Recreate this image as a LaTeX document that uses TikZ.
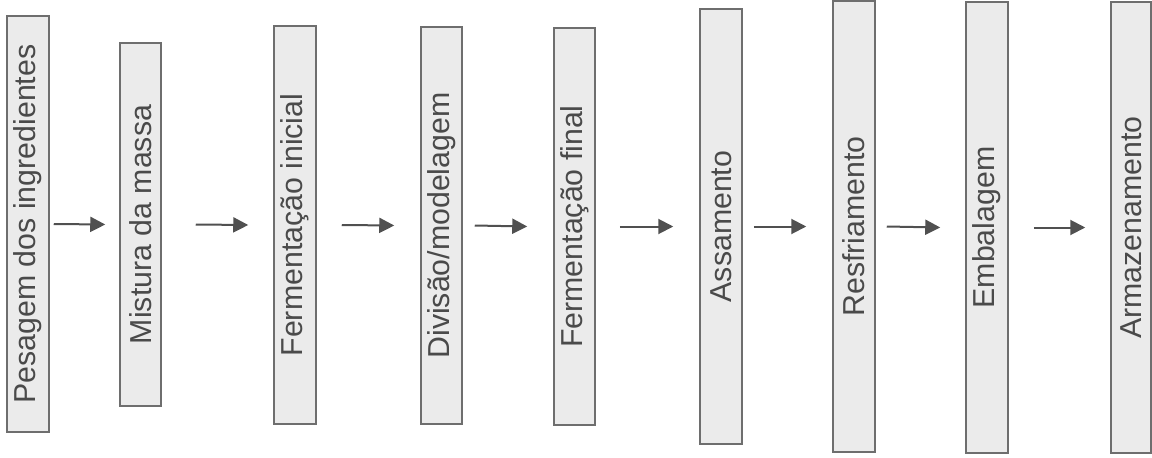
\documentclass[tikz,border=0pt]{standalone}
\usepackage{fontspec}
\setmainfont{Liberation Sans}
\usetikzlibrary{arrows.meta}
\definecolor{boxfill}{HTML}{EBEBEB}
\definecolor{boxline}{HTML}{6E6E6E}
\definecolor{txt}{HTML}{4A4A4A}
\definecolor{arrcol}{HTML}{505050}
\tikzset{
  stagebox/.style={draw=boxline, line width=1.5pt, fill=boxfill, inner sep=0pt,
    text=txt, font=\fontsize{30.3}{32}\selectfont},
  flowarrow/.style={draw=arrcol, line width=2pt,
    -{Triangle[length=15pt,width=15pt]}}
}
\begin{document}
\begin{tikzpicture}[x=1pt,y=-1pt]
\useasboundingbox (0,0) rectangle (1152,458);
\node[stagebox, minimum width=42pt, minimum height=416pt] (b1) at (28,224) {\rotatebox{90}{Pesagem dos ingredientes}};
\node[stagebox, minimum width=41pt, minimum height=363pt] (b2) at (140.5,224.5) {\rotatebox{90}{Mistura da massa}};
\node[stagebox, minimum width=42pt, minimum height=398pt] (b3) at (295,225) {\rotatebox{90}{Fermentação inicial}};
\node[stagebox, minimum width=41pt, minimum height=397pt] (b4) at (441.5,225.5) {\rotatebox{90}{Divisão/modelagem}};
\node[stagebox, minimum width=41pt, minimum height=397pt] (b5) at (574.5,226.5) {\rotatebox{90}{Fermentação final}};
\node[stagebox, minimum width=42pt, minimum height=435pt] (b6) at (721,226.5) {\rotatebox{90}{Assamento}};
\node[stagebox, minimum width=42pt, minimum height=451pt] (b7) at (854,226.5) {\rotatebox{90}{Resfriamento}};
\node[stagebox, minimum width=42pt, minimum height=451pt] (b8) at (987,227.5) {\rotatebox{90}{Embalagem}};
\node[stagebox, minimum width=40pt, minimum height=451pt] (b9) at (1131,227.5) {\rotatebox{90}{Armazenamento}};
\draw[flowarrow] ([xshift=4pt]b1.east) -- ([xshift=-14pt]b2.west);
\draw[flowarrow] ([xshift=34pt]b2.east) -- ([xshift=-25pt]b3.west);
\draw[flowarrow] ([xshift=25pt]b3.east) -- ([xshift=-26pt]b4.west);
\draw[flowarrow] ([xshift=12pt]b4.east) -- ([xshift=-26pt]b5.west);
\draw[flowarrow] ([xshift=24pt]b5.east) -- ([xshift=-26pt]b6.west);
\draw[flowarrow] ([xshift=11pt]b6.east) -- ([xshift=-26pt]b7.west);
\draw[flowarrow] ([xshift=11pt]b7.east) -- ([xshift=-25pt]b8.west);
\draw[flowarrow] ([xshift=25pt]b8.east) -- ([xshift=-25pt]b9.west);
\end{tikzpicture}
\end{document}
